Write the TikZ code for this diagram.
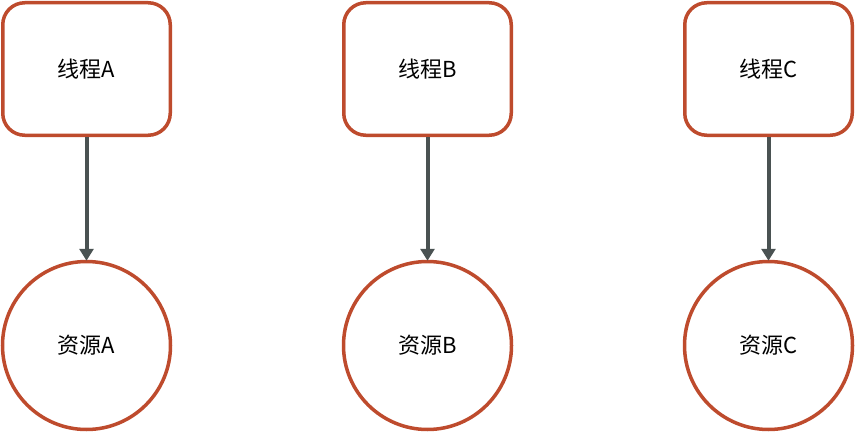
\documentclass[tikz,border=0pt]{standalone}
\usepackage{fontspec}
\setmainfont{Noto Sans CJK SC}
\usetikzlibrary{arrows.meta}
\definecolor{edgered}{HTML}{BE4B2D}
\definecolor{arrowgray}{HTML}{4A5252}
\tikzset{
  thread/.style={draw=edgered, line width=3.5pt, rounded corners=22pt, minimum width=167.5pt, minimum height=132.5pt, fill=white, font=\fontsize{22}{26}\selectfont},
  res/.style={circle, draw=edgered, line width=3.5pt, minimum size=168pt, inner sep=0pt, fill=white, font=\fontsize{22}{26}\selectfont},
  link/.style={draw=arrowgray, line width=4pt, -{Triangle[length=12pt,width=14pt]}, shorten >=-1pt}
}
\begin{document}
\begin{tikzpicture}[x=1pt,y=-1pt]
\useasboundingbox (0,0) rectangle (856,433);
\node[thread] (tA) at (86.5,69) {线程A};
\node[thread] (tB) at (427.5,69) {线程B};
\node[thread] (tC) at (768.5,69) {线程C};
\node[res] (rA) at (86.5,345.5) {资源A};
\node[res] (rB) at (427.5,345.5) {资源B};
\node[res] (rC) at (768.5,345.5) {资源C};
\draw[link] (tA) -- (rA);
\draw[link] (tB) -- (rB);
\draw[link] (tC) -- (rC);
\end{tikzpicture}
\end{document}
